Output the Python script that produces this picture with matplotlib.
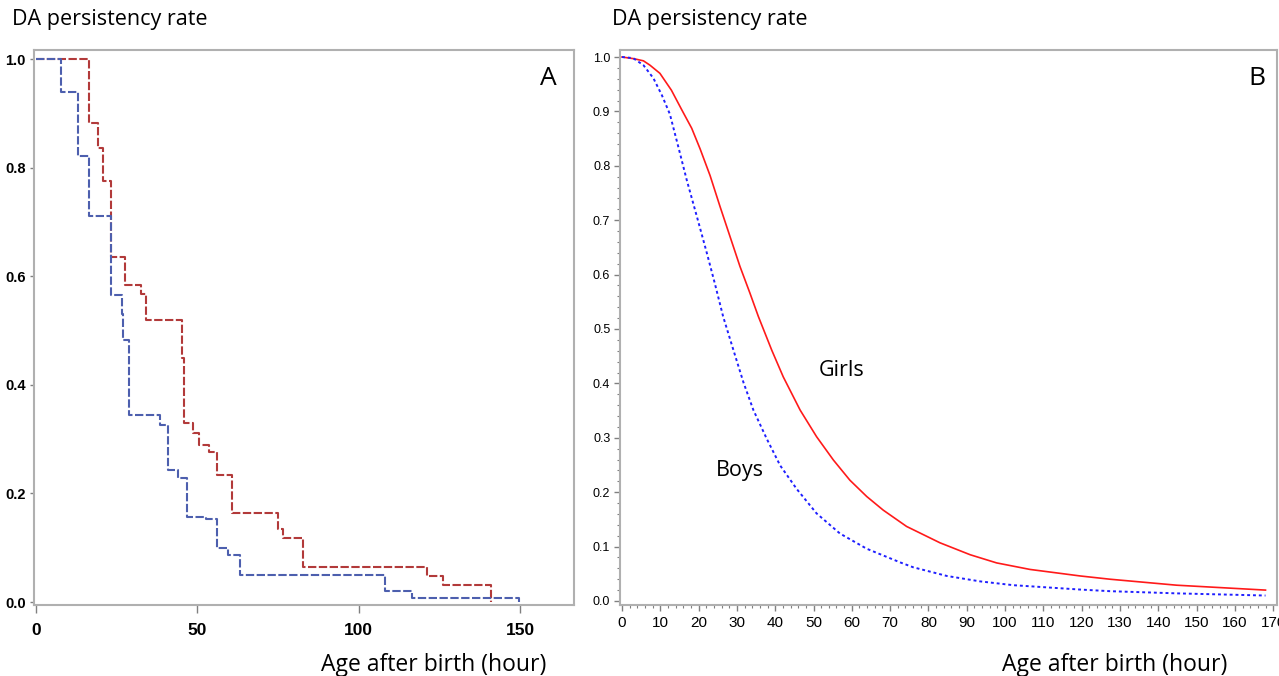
import numpy as np
import matplotlib
matplotlib.use("Agg")
import matplotlib.pyplot as plt
from matplotlib.ticker import MultipleLocator

# --- Panel A: Kaplan-Meier steps (hour, survival after the event) ---
girls_km_t = [16.5, 19.3, 20.9, 23.2, 27.7, 32.4, 34.0, 45.1, 45.8, 48.7, 50.6,
              53.6, 56.2, 60.8, 75.1, 76.6, 82.6, 121.1, 126.0, 140.9]
girls_km_s = [0.883, 0.837, 0.775, 0.636, 0.583, 0.567, 0.519, 0.45, 0.330, 0.311, 0.289,
              0.277, 0.233, 0.164, 0.134, 0.117, 0.065, 0.047, 0.031, 0.0]
boys_km_t = [7.6, 12.9, 16.5, 23.1, 26.5, 27.0, 28.9, 38.4, 40.8, 43.9, 46.7,
             52.7, 56.0, 59.4, 63.2, 108.2, 116.4, 149.7]
boys_km_s = [0.939, 0.821, 0.711, 0.565, 0.53, 0.482, 0.344, 0.326, 0.244, 0.228, 0.157,
             0.153, 0.099, 0.087, 0.050, 0.021, 0.008, 0.0]

# --- Panel B: fitted persistency curves ---
girls_fit_t = [0, 3, 5.6, 7.3, 9.9, 12.9, 15.6, 18.2, 20.4, 23, 25.6, 28.2, 30.8, 33.4,
               35.6, 39.1, 42.1, 46.5, 50.8, 55.2, 59.5, 63.9, 68.2, 74.3, 83, 90.9,
               97.8, 106.5, 119.6, 127.4, 144.8, 168]
girls_fit_s = [1.0, 0.997, 0.993, 0.985, 0.970, 0.939, 0.903, 0.869, 0.831, 0.782, 0.725,
               0.670, 0.615, 0.566, 0.523, 0.461, 0.412, 0.351, 0.302, 0.259, 0.222, 0.192,
               0.167, 0.137, 0.107, 0.085, 0.070, 0.058, 0.046, 0.040, 0.029, 0.020]
boys_fit_t = [0, 2.9, 5.6, 8.2, 10.4, 12.5, 14.7, 16.9, 19.5, 22.1, 24.3, 26.4, 29.1,
              31.7, 34.3, 37.8, 41.3, 45.6, 50.8, 56.9, 63.9, 72.6, 76, 84.8, 93.5,
              102.2, 119.6, 127.4, 144.8, 168]
boys_fit_s = [1.0, 0.998, 0.985, 0.961, 0.930, 0.895, 0.835, 0.774, 0.708, 0.641, 0.582,
              0.523, 0.461, 0.402, 0.351, 0.298, 0.249, 0.206, 0.161, 0.124, 0.096, 0.071,
              0.062, 0.046, 0.036, 0.029, 0.021, 0.018, 0.014, 0.010]

title_text = "DA persistency rate"
xlabel_text = "Age after birth (hour)"
text_font = ["Open Sans", "DejaVu Sans"]
tick_font = ["Liberation Sans Narrow", "Liberation Sans", "DejaVu Sans"]

fig = plt.figure(figsize=(12.79, 6.76), dpi=100)
fig.patch.set_facecolor("white")

# ---------------- Panel A ----------------
ax1 = fig.add_axes([34 / 1279, 1 - 605 / 676, 540 / 1279, 555 / 676])
t = np.r_[0, girls_km_t]
s = np.r_[1.0, girls_km_s]
ax1.step(t, s, where="post", color="#b23a3a", lw=1.5, ls=(0, (4, 1.2)))
t = np.r_[0, boys_km_t]
s = np.r_[1.0, boys_km_s]
ax1.step(t, s, where="post", color="#4d5fae", lw=1.5, ls=(0, (4, 1.2)))
ax1.set_xlim(-0.62, 166.7)
ax1.set_ylim(-0.0055, 1.0166)
ax1.set_xticks([0, 50, 100, 150])
ax1.set_yticks([0.0, 0.2, 0.4, 0.6, 0.8, 1.0])
ax1.set_yticklabels(["0.0", "0.2", "0.4", "0.6", "0.8", "1.0"])
for lab in ax1.get_xticklabels():
    lab.set_family(tick_font)
    lab.set_fontweight("bold")
    lab.set_fontsize(12.5)
for lab in ax1.get_yticklabels():
    lab.set_family(tick_font)
    lab.set_fontweight("bold")
    lab.set_fontsize(10.5)
ax1.tick_params(axis="x", direction="out", length=6, width=1, color="#808080", pad=7)
ax1.tick_params(axis="y", direction="out", length=3, width=1, color="#808080", pad=3)
for sp in ax1.spines.values():
    sp.set_color("#b0b0b0")
    sp.set_linewidth(1.5)
ax1.text(158.7, 0.965, "A", fontsize=19, family=text_font, ha="center", va="center")

# ---------------- Panel B ----------------
ax2 = fig.add_axes([620 / 1279, 1 - 605 / 676, 657 / 1279, 555 / 676])
ax2.plot(girls_fit_t, girls_fit_s, color="#ff1a1a", lw=1.2)
ax2.plot(boys_fit_t, boys_fit_s, color="#1f1fff", lw=1.4, ls=(0, (1.5, 1.5)))
ax2.set_xlim(-0.52, 171.0)
ax2.set_ylim(-0.0074, 1.0129)
ax2.xaxis.set_major_locator(MultipleLocator(10))
ax2.xaxis.set_minor_locator(MultipleLocator(2))
ax2.yaxis.set_major_locator(MultipleLocator(0.1))
ax2.yaxis.set_minor_locator(MultipleLocator(0.02))
ax2.yaxis.set_major_formatter(plt.FuncFormatter(lambda v, p: f"{v:.1f}"))
for lab in ax2.get_xticklabels():
    lab.set_family(tick_font)
    lab.set_fontsize(11)
for lab in ax2.get_yticklabels():
    lab.set_family(tick_font)
    lab.set_fontsize(9)
ax2.tick_params(which="major", direction="out", length=4, width=1, color="#808080", pad=3)
ax2.tick_params(axis="x", which="major", pad=4)
ax2.tick_params(which="minor", direction="out", length=2.5, width=0.8, color="#808080")
for sp in ax2.spines.values():
    sp.set_color("#b0b0b0")
    sp.set_linewidth(1.5)
ax2.text(165.8, 0.961, "B", fontsize=19, family=text_font, ha="center", va="center")
ax2.text(57.4, 0.423, "Girls", fontsize=15.5, family=text_font, ha="center", va="center")
ax2.text(30.8, 0.2395, "Boys", fontsize=15.5, family=text_font, ha="center", va="center")

# titles and axis labels as free text
fig.text(12 / 1279, 1 - 20 / 676, title_text, fontsize=15.5, family=text_font, ha="left", va="center")
fig.text(612 / 1279, 1 - 20 / 676, title_text, fontsize=15.5, family=text_font, ha="left", va="center")
fig.text(434 / 1279, 1 - 665 / 676, xlabel_text, fontsize=16.5, family=text_font, ha="center", va="center")
fig.text(1115 / 1279, 1 - 665 / 676, xlabel_text, fontsize=16.5, family=text_font, ha="center", va="center")

fig.savefig("out.png", dpi=100, facecolor="white")
